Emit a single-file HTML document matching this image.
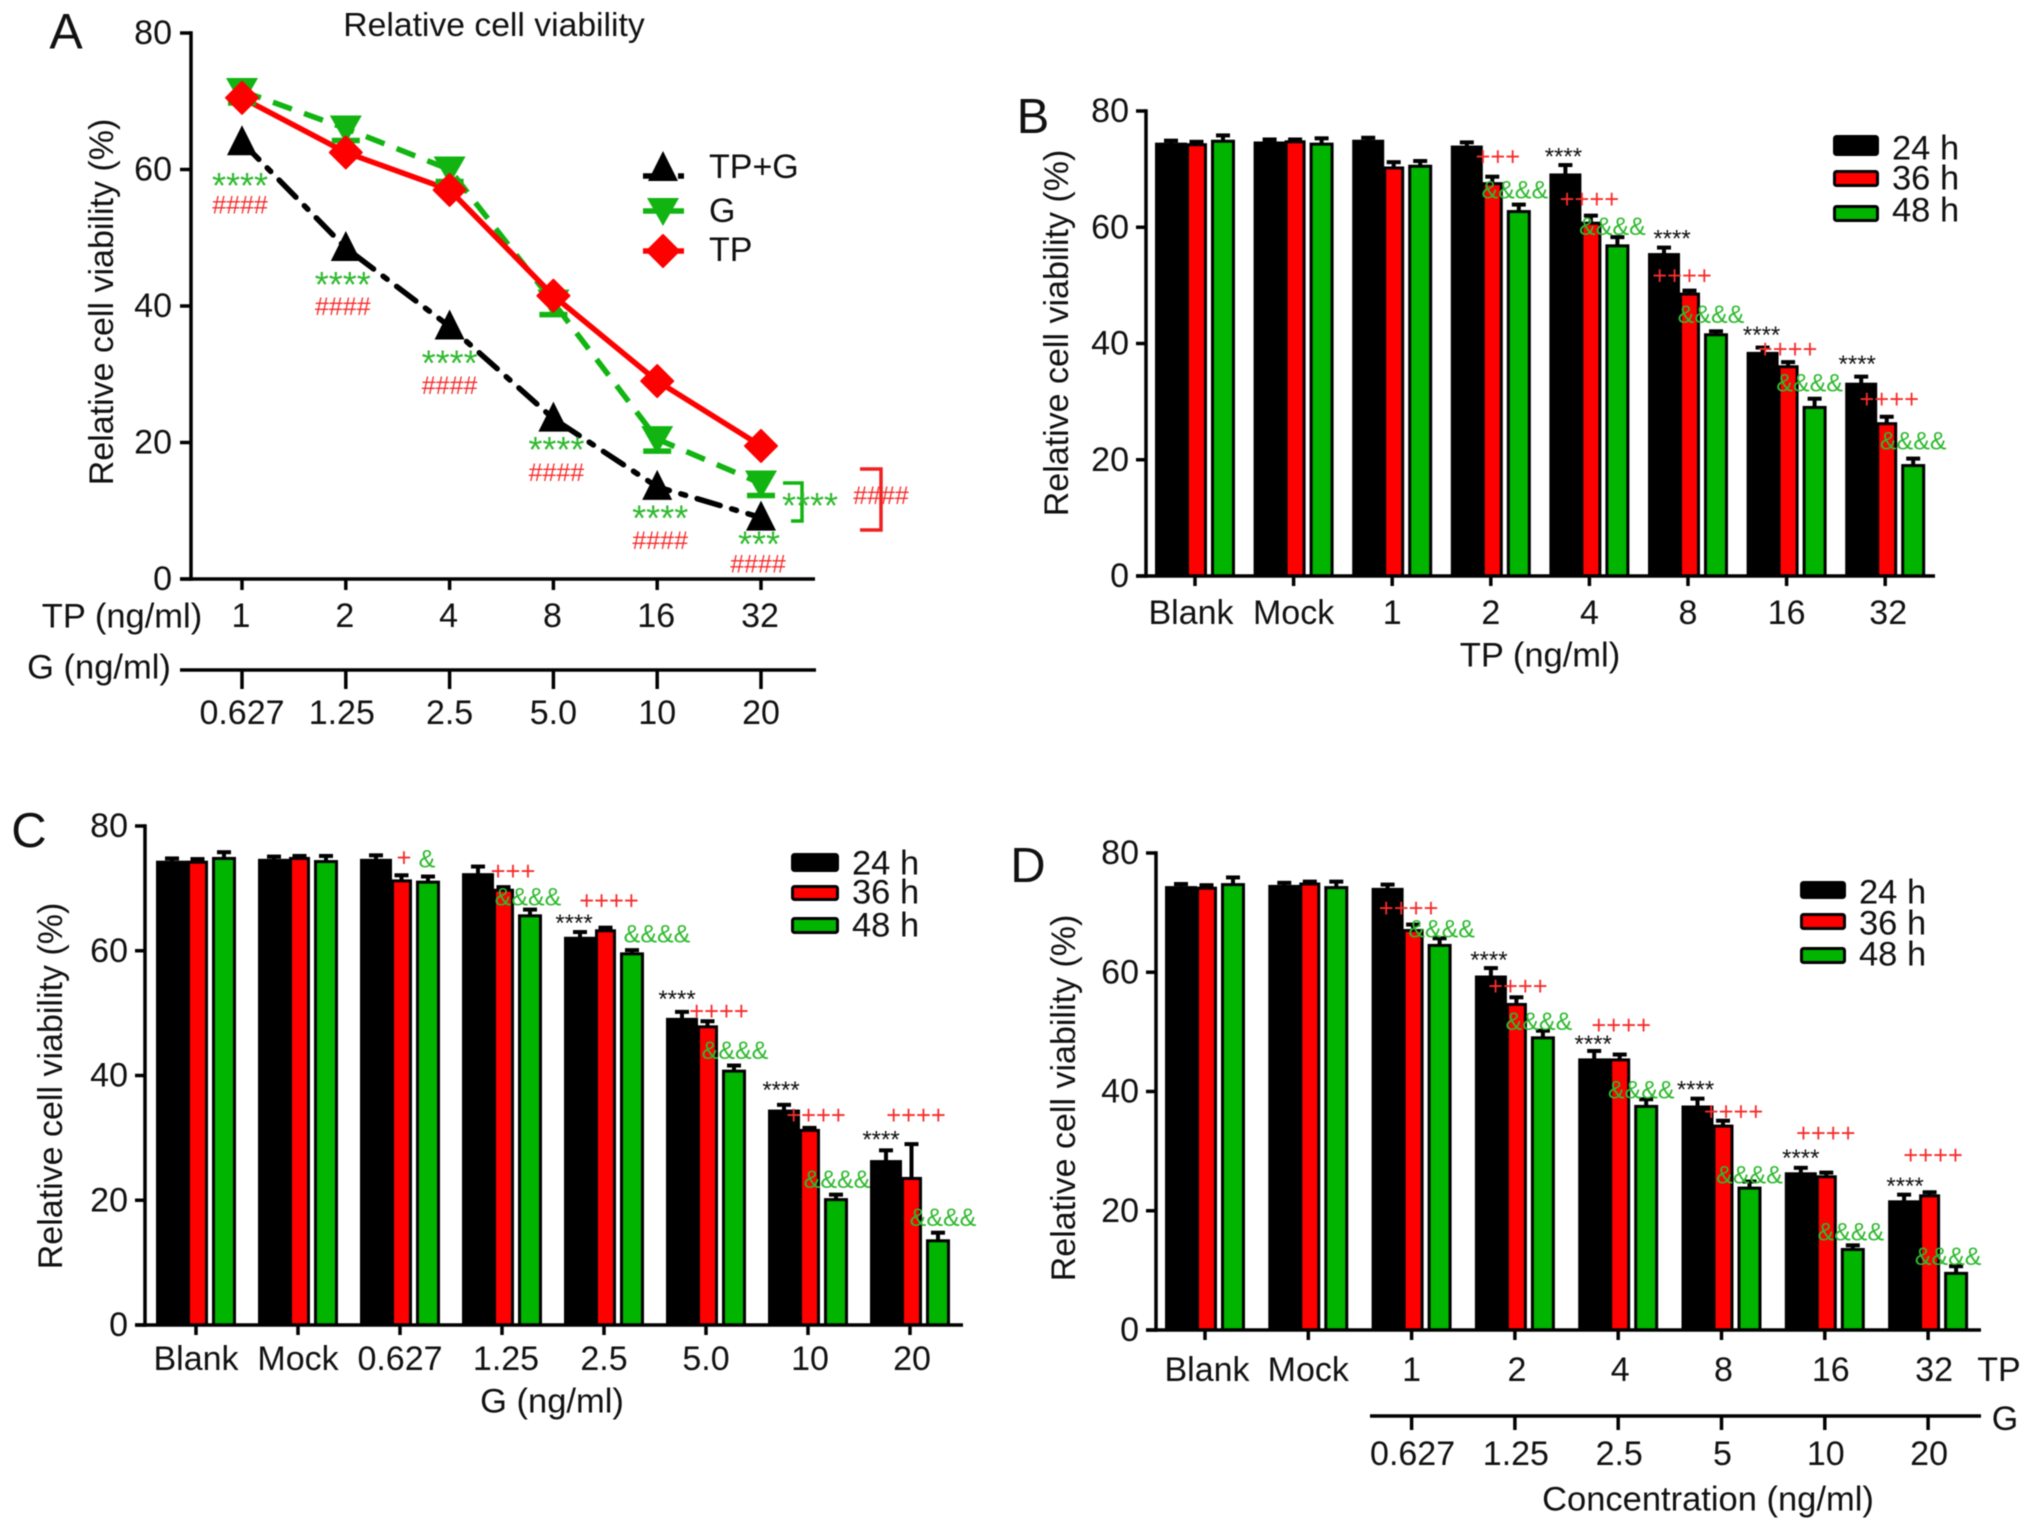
<!DOCTYPE html>
<html lang="en">
<head>
<meta charset="utf-8">
<title>Relative cell viability panels</title>
<style>
html,body{margin:0;padding:0;background:#fff;width:2032px;height:1530px;overflow:hidden}
svg{display:block;filter:blur(0.6px)}
text{font-family:"Liberation Sans",Arial,sans-serif;fill:#111}
</style>
</head>
<body>
<svg id="fig" xmlns="http://www.w3.org/2000/svg" width="2032" height="1530" viewBox="0 0 2032 1530"></svg>
<script>
// ---------- Panel A data ----------
const lineTicksY = [0, 20, 40, 60, 80];
const lineCatsTP = ['1', '2', '4', '8', '16', '32'];
const lineCatsG = ['0.627', '1.25', '2.5', '5.0', '10', '20'];
const lineCombo = [64, 48.5, 37, 23.5, 13.5, 9];
const lineG = [71.5, 66, 60, 40.5, 20.5, 14];
const lineTP = [70.5, 62.5, 57, 41.5, 29, 19.5];

// ---------- Bar panel data ----------
const barTicksY = [0, 20, 40, 60, 80];
const catsB = ['Blank', 'Mock', '1', '2', '4', '8', '16', '32'];
const b24 = [74.3, 74.5, 74.8, 73.8, 69, 55.3, 38.3, 33];
const b36 = [74.2, 74.7, 70.2, 67.5, 60.7, 48.5, 36, 26.2];
const b48 = [74.8, 74.3, 70.5, 62.7, 56.8, 41.5, 29, 19];
const b24Err = [0.6, 0.6, 0.6, 0.8, 1.7, 1.2, 1, 1.3];
const b36Err = [0.5, 0.4, 1, 1.2, 1.3, 0.6, 0.8, 1.2];
const b48Err = [1, 1, 0.9, 1.2, 1.5, 0.6, 1.5, 1.2];

const catsC = ['Blank', 'Mock', '0.627', '1.25', '2.5', '5.0', '10', '20'];
const c24 = [74.2, 74.5, 74.5, 72.2, 62, 49, 34.3, 26.2];
const c36 = [74.2, 74.8, 71.2, 69.7, 63.2, 47.8, 31.2, 23.5];
const c48 = [74.8, 74.3, 71, 65.6, 59.5, 40.7, 20.1, 13.5];
const c24Err = [0.6, 0.6, 0.8, 1.3, 1, 1.2, 1, 1.8];
const c36Err = [0.5, 0.4, 0.9, 0.5, 0.5, 0.9, 0.4, 5.5];
const c48Err = [1, 0.9, 0.9, 1, 0.6, 0.9, 0.8, 1.3];

const catsD = ['Blank', 'Mock', '1', '2', '4', '8', '16', '32'];
const catsDG = ['0.627', '1.25', '2.5', '5', '10', '20'];
const d24 = [74.2, 74.4, 73.9, 59.2, 45.3, 37.4, 26.2, 21.5];
const d36 = [74.1, 74.8, 67, 54.6, 45.3, 34.2, 25.7, 22.5];
const d48 = [74.7, 74.2, 64.5, 49, 37.5, 23.8, 13.5, 9.5];
const d24Err = [0.6, 0.6, 0.8, 1.5, 1.5, 1.4, 1, 1.2];
const d36Err = [0.5, 0.4, 1, 1.2, 0.9, 0.9, 0.7, 0.6];
const d48Err = [1.2, 1, 1.2, 1.2, 1.2, 1.1, 0.7, 1.2];

const legendLabels = ['24 h', '36 h', '48 h'];

const RED = '#ff0000', GREEN = '#00b400', LGREEN = '#2fb92f', LRED = '#f72c2c';
const fig = document.getElementById('fig');

function mk(tag, attrs, name, parent) {
  const el = document.createElementNS('http://www.w3.org/2000/svg', tag);
  for (const k in attrs) el.setAttribute(k, attrs[k]);
  
  
  (parent || fig).appendChild(el);
  return el;
}
function line(x1, y1, x2, y2, w, c, name, parent) {
  return mk('line', {x1, y1, x2, y2, stroke: c || '#000', 'stroke-width': w || 3.5}, name, parent);
}
function label(str, x, yc, size, anchor, name, opts, parent) {
  opts = opts || {};
  const f = opts.f === undefined ? 0.33 : opts.f;
  const a = {x, y: yc + f * size, 'font-size': size, 'text-anchor': anchor || 'middle'};
  if (opts.fill) a.style = 'fill:' + opts.fill;
  if (opts.rotate) {
    a.x = 0; a.y = 0;
    a.transform = 'translate(' + (x + 0.36 * size) + ' ' + yc + ') rotate(-90)';
  }
  const el = mk('text', a, name, parent);
  el.textContent = str;
  return el;
}

// ---------- Panel A ----------
(function () {
  const g = mk('g', {}, 'panel-a');
  const y0 = 579, ppu = 6.825;
  const X = i => 242 + i * 103.8;
  const Y = v => y0 - v * ppu;
  label('A', 66, 32, 50, 'middle', 'panel-a-letter', {}, g);
  label('Relative cell viability', 494, 25, 33.7, 'middle', 'panel-a-title', {}, g);
  label('Relative cell viability (%)', 101, 302, 34, 'middle', 'y-axis-title', {rotate: true}, g);
  line(191, Y(80) - 1.7, 191, y0 + 1.7, 3.5, '#000', 'y-axis', g);
  line(180, y0, 815, y0, 3.5, '#000', 'x-axis', g);
  lineTicksY.forEach(v => {
    line(180, Y(v), 191, Y(v), 3.5, '#000', 'y-tick', g);
    label(String(v), 172, Y(v), 34, 'end', 'y-tick-label', {}, g);
  });
  lineCatsTP.forEach((c, i) => {
    line(X(i), y0, X(i), y0 + 11, 3.5, '#000', 'x-tick', g);
    label(c, X(i) - 1, 616, 34, 'middle', 'tp-dose-label', {}, g);
  });
  label('TP (ng/ml)', 122, 616, 34.5, 'middle', 'tp-axis-title', {}, g);
  label('G (ng/ml)', 99, 667, 34.5, 'middle', 'g-axis-title', {}, g);
  line(180, 670, 816, 670, 3.5, '#000', 'g-dose-axis', g);
  lineCatsG.forEach((c, i) => {
    line(X(i), 670, X(i), 689, 3.5, '#000', 'g-dose-tick', g);
    label(c, X(i) - (i === 1 ? 4 : 0), 713, 34, 'middle', 'g-dose-label', {}, g);
  });
  function pts(arr) { return arr.map((v, i) => X(i) + ',' + Y(v)).join(' '); }
  const common = {fill: 'none', 'stroke-width': 5.5, 'stroke-linejoin': 'round'};
  mk('polyline', Object.assign({points: pts(lineCombo), stroke: '#000', 'stroke-dasharray': '24 12 5 12', 'stroke-linecap': 'round'}, common), 'series-tp-g-line', g);
  mk('polyline', Object.assign({points: pts(lineG), stroke: '#11b411', 'stroke-dasharray': '20 13'}, common), 'series-g-line', g);
  mk('polyline', Object.assign({points: pts(lineTP), stroke: RED}, common), 'series-tp-line', g);
  function up(x, y, name, parent) {
    return mk('polygon', {points: [x, y - 17, x + 15, y + 13, x - 15, y + 13].join(' '), fill: '#000'}, name, parent);
  }
  function down(x, y, name, parent) {
    return mk('polygon', {points: [x - 16, y - 13, x + 16, y - 13, x, y + 15].join(' '), fill: '#11b411'}, name, parent);
  }
  function dia(x, y, name, parent) {
    return mk('polygon', {points: [x, y - 16, x + 16, y, x, y + 16, x - 16, y].join(' '), fill: RED, stroke: RED, 'stroke-width': 2, 'stroke-linejoin': 'round'}, name, parent);
  }
  lineCombo.forEach((v, i) => up(X(i), Y(v), 'tp-g-point', g));
  lineG.forEach((v, i) => {
    down(X(i), Y(v), 'g-point', g);
    line(X(i) - 14, Y(v) + 12, X(i) + 14, Y(v) + 12, 5.5, '#11b411', 'g-point-cap', g);
  });
  lineTP.forEach((v, i) => dia(X(i), Y(v), 'tp-point', g));

  // significance marks
  function stars(s, x, yc, nm) { label(s, x, yc, 36, 'middle', nm, {fill: LGREEN, f: 0.45}, g); }
  function hash(x, yc, nm) { label('####', x, yc, 25, 'middle', nm, {fill: LRED, f: 0.36}, g); }
  stars('****', X(0) - 2, Y(58.2), 'significance-stars');
  stars('****', X(1) - 3, Y(43.7), 'significance-stars');
  stars('****', X(2), Y(32.2), 'significance-stars');
  stars('****', X(3) + 3, Y(19.5), 'significance-stars');
  stars('****', X(4) + 3, Y(9.5), 'significance-stars');
  stars('***', X(5) - 2, Y(5.7), 'significance-stars');
  hash(X(0) - 2, Y(54.9), 'significance-hash');
  hash(X(1) - 3, Y(40), 'significance-hash');
  hash(X(2), Y(28.4), 'significance-hash');
  hash(X(3) + 3, Y(15.7), 'significance-hash');
  hash(X(4) + 3, Y(5.7), 'significance-hash');
  hash(X(5) - 3, Y(2.3), 'significance-hash');

  // brackets
  mk('polyline', {points: '783,483 802,483 802,521 791,521', fill: 'none', stroke: '#11b411', 'stroke-width': 3.5}, 'green-bracket', g);
  mk('polyline', {points: '860,469 881,469 881,530 860,530', fill: 'none', stroke: '#f02020', 'stroke-width': 3.5}, 'red-bracket', g);
  stars('****', 810, 502, 'bracket-stars');
  hash(881, 495, 'bracket-hash');

  // legend
  const lg = mk('g', {}, 'panel-a-legend', g);
  line(643, 176, 684, 176, 5.5, '#000', 'legend-line-tp-g', lg).setAttribute('stroke-dasharray', '20 5 5 5');
  up(663, 168, 'legend-marker-tp-g', lg);
  label('TP+G', 709, 167, 34, 'start', 'legend-label-tp-g', {}, lg);
  line(643, 211, 684, 211, 5.5, '#11b411', 'legend-line-g', lg);
  down(663, 211, 'legend-marker-g', lg);
  label('G', 709, 211, 34, 'start', 'legend-label-g', {}, lg);
  line(643, 251, 684, 251, 5.5, RED, 'legend-line-tp', lg);
  dia(663, 251, 'legend-marker-tp', lg);
  label('TP', 709, 250, 34, 'start', 'legend-label-tp', {}, lg);
})();

// ---------- Bar panels ----------
function barPanel(cfg) {
  const g = mk('g', {}, cfg.name);
  const ppu = (cfg.y0 - cfg.y80) / 80;
  const X = i => cfg.x0 + i * cfg.step;
  const Y = v => cfg.y0 - v * ppu;
  const G = {X, Y, g};
  label(cfg.letter, cfg.letterX, cfg.letterY, 49, 'middle', 'panel-letter', {}, g);
  label('Relative cell viability (%)', cfg.titleX, cfg.titleY, 34, 'middle', 'y-axis-title', {rotate: true}, g);

  cfg.series.forEach((vals, s) => {
    const left = [-40, -9, 16][s], right = [-8, 12, 40][s];
    const col = ['#000', RED, GREEN][s];
    vals.forEach((v, i) => {
      const err = cfg.errs[s][i];
      line(X(i) + (left + right) / 2, Y(v), X(i) + (left + right) / 2, Y(v + err), 4, '#000', 'error-bar', g);
      line(X(i) + (left + right) / 2 - 7, Y(v + err), X(i) + (left + right) / 2 + 7, Y(v + err), 4, '#000', 'error-cap', g);
      mk('rect', {x: X(i) + left + 1.5, y: Y(v), width: right - left - 3, height: cfg.y0 - Y(v), fill: col, stroke: '#000', 'stroke-width': 3}, 'bar-' + legendLabels[s].replace(' ', '') + '-' + cfg.cats[i], g);
    });
  });

  line(cfg.axisX, cfg.y80 - 1.7, cfg.axisX, cfg.y0 + 1.7, 3.5, '#000', 'y-axis', g);
  line(cfg.axisX - 10, cfg.y0, cfg.axisEnd, cfg.y0, 3.5, '#000', 'x-axis', g);
  barTicksY.forEach(v => {
    line(cfg.axisX - 10, Y(v), cfg.axisX, Y(v), 3.5, '#000', 'y-tick', g);
    label(String(v), cfg.axisX - 17, Y(v), 34, 'end', 'y-tick-label', {}, g);
  });
  cfg.cats.forEach((c, i) => {
    line(X(i), cfg.y0, X(i), cfg.y0 + 10, 3.5, '#000', 'x-tick', g);
    label(c, X(i) + cfg.labelShift(i), cfg.catY, 34, 'middle', 'x-tick-label', {}, g);
  });

  // legend
  cfg.legendRows.forEach((r, s) => {
    mk('rect', {x: cfg.legX + 1.5, y: r[0] + 1.5, width: cfg.legW - 3, height: r[1] - r[0] - 3, rx: 2, fill: ['#000', RED, GREEN][s], stroke: '#000', 'stroke-width': 3}, 'legend-swatch', g);
    label(legendLabels[s], cfg.legX + cfg.legW + 13, r[2], 34.5, 'start', 'legend-label', {}, g);
  });

  // significance annotations: [group, x shift, value level, text]
  cfg.starNotes.forEach(n => label('****', X(n[0]) + n[1], Y(n[2]), 24, 'middle', 'significance-stars', {f: 0.42}, g));
  cfg.plusNotes.forEach(n => label(n[3], X(n[0]) + n[1], Y(n[2]), 25.5, 'middle', 'significance-plus', {fill: LRED, f: 0.36}, g));
  cfg.ampNotes.forEach(n => label(n[3], X(n[0]) + n[1], Y(n[2]), 25, 'middle', 'significance-amp', {fill: LGREEN, f: 0.36}, g));
  return G;
}

const pB = barPanel({
  name: 'panel-b', letter: 'B', letterX: 1033, letterY: 117, titleX: 1056, titleY: 333,
  x0: 1195, step: 98.6, y0: 576, y80: 111, axisX: 1146, axisEnd: 1935, catY: 613,
  cats: catsB, series: [b24, b36, b48], errs: [b24Err, b36Err, b48Err],
  labelShift: i => (i === 0 ? -4 : i === 7 ? 3 : 0),
  legX: 1833, legW: 46, legendRows: [[135, 156, 148], [170, 187, 178], [205, 222, 210]],
  starNotes: [[4, -26, 72.5], [5, -16, 58.4], [6, -25, 41.8], [7, -28, 36.8]],
  plusNotes: [[3, 7, 72.2, '+++'], [4, 0, 64.9, '++++'], [5, -6, 51.7, '++++'], [6, 1, 39.1, '++++'], [7, 4, 30.5, '++++']],
  ampNotes: [[3, 24, 66.5, '&&&&'], [4, 23, 60.2, '&&&&'], [5, 23, 45.1, '&&&&'], [6, 23, 33.3, '&&&&'], [7, 28, 23.3, '&&&&']]
});
label('TP (ng/ml)', 1540, 655, 34.5, 'middle', 'x-axis-title', {}, pB.g);

const pC = barPanel({
  name: 'panel-c', letter: 'C', letterX: 29, letterY: 831, titleX: 50, titleY: 1086,
  x0: 196, step: 102, y0: 1325, y80: 826, axisX: 145, axisEnd: 963, catY: 1359,
  cats: catsC, series: [c24, c36, c48], errs: [c24Err, c36Err, c48Err],
  labelShift: i => (i === 3 ? 4 : i >= 6 ? 2 : 0),
  legX: 791, legW: 48, legendRows: [[853, 872, 863], [885, 901, 892], [917, 934, 925]],
  starNotes: [[4, -30, 64.8], [5, -29, 52.6], [6, -27, 38], [7, -29, 30.1]],
  plusNotes: [[2, 4, 75, '+'], [3, 11, 72.8, '+++'], [4, 5, 68.1, '++++'], [5, 13, 50.4, '++++'], [6, 8, 33.7, '++++'], [7, 6, 33.7, '++++']],
  ampNotes: [[2, 27, 74.8, '&'], [3, 26, 68.7, '&&&&'], [4, 53, 62.8, '&&&&'], [5, 29, 44.1, '&&&&'], [6, 29, 23.4, '&&&&'], [7, 33, 17.3, '&&&&']]
});
label('G (ng/ml)', 552, 1401, 34.5, 'middle', 'x-axis-title', {}, pC.g);

const pD = barPanel({
  name: 'panel-d', letter: 'D', letterX: 1028, letterY: 866, titleX: 1063, titleY: 1098,
  x0: 1205, step: 103.3, y0: 1330, y80: 853, axisX: 1156, axisEnd: 1981, catY: 1370,
  cats: catsD, series: [d24, d36, d48], errs: [d24Err, d36Err, d48Err],
  labelShift: i => (i === 0 ? 2 : i >= 6 ? 6 : i >= 3 ? 2 : 0),
  legX: 1800, legW: 46, legendRows: [[881, 899, 892], [913, 930, 923], [947, 964, 954]],
  starNotes: [[3, -26, 62.4], [4, -25, 48.3], [5, -26, 40.7], [6, -24, 29.2], [7, -23, 24.5]],
  plusNotes: [[2, -3, 70.8, '++++'], [3, 3, 57.7, '++++'], [4, 3, 51.2, '++++'], [5, 12, 36.7, '++++'], [6, 1, 33.1, '++++'], [7, 5, 29.4, '++++']],
  ampNotes: [[2, 30, 67.3, '&&&&'], [3, 24, 51.8, '&&&&'], [4, 23, 40.3, '&&&&'], [5, 28, 26.1, '&&&&'], [6, 26, 16.5, '&&&&'], [7, 20, 12.4, '&&&&']]
});
label('TP', 1999, 1370, 34, 'middle', 'tp-row-label', {}, pD.g);
line(1370, 1416, 1981, 1416, 3.5, '#000', 'g-dose-axis', pD.g);
catsDG.forEach((c, i) => {
  line(pD.X(i + 2), 1416, pD.X(i + 2), 1430, 3.5, '#000', 'g-dose-tick', pD.g);
  label(c, pD.X(i + 2) + 1, 1454, 34, 'middle', 'g-dose-label', {}, pD.g);
});
label('G', 2005, 1419, 34, 'middle', 'g-row-label', {}, pD.g);
label('Concentration (ng/ml)', 1708, 1499, 34.5, 'middle', 'x-axis-title', {}, pD.g);
</script>
</body>
</html>
